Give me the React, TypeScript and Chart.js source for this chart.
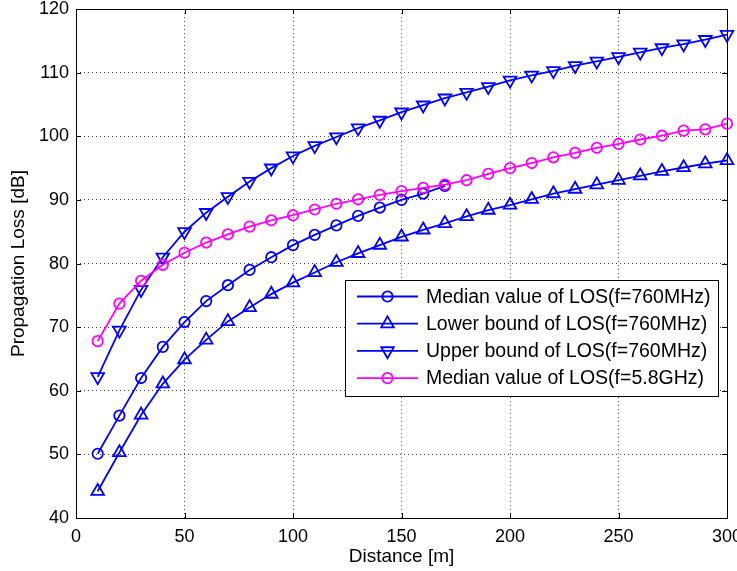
import React, { useEffect, useRef } from 'react';
import { Chart, registerables } from 'chart.js';
import { drawPoint } from 'chart.js/helpers';

Chart.register(...registerables);

// ---- data ----
const distances = [10, 20, 30, 40, 50, 60, 70, 80, 90, 100, 110, 120, 130, 140, 150, 160, 170, 180, 190, 200, 210, 220, 230, 240, 250, 260, 270, 280, 290, 300];
const median760 = [50.1, 56.1, 62.0, 66.9, 70.8, 74.1, 76.6, 79.0, 81.0, 82.9, 84.5, 86.0, 87.5, 88.8, 90.0, 91.0, 92.2];
const lower760 = [44.2, 50.3, 56.2, 61.1, 64.9, 68.0, 70.9, 73.1, 75.2, 77.0, 78.6, 80.2, 81.6, 82.9, 84.2, 85.3, 86.3, 87.4, 88.4, 89.2, 90.1, 91.0, 91.7, 92.4, 93.1, 93.8, 94.5, 95.1, 95.7, 96.2];
const upper760 = [62.2, 69.5, 75.9, 81.0, 85.0, 88.0, 90.5, 92.9, 95.0, 96.9, 98.5, 99.9, 101.3, 102.5, 103.8, 104.9, 106.0, 106.9, 107.8, 108.8, 109.6, 110.3, 111.1, 111.8, 112.5, 113.2, 113.9, 114.5, 115.2, 116.0];
const median58 = [67.8, 73.7, 77.3, 79.8, 81.7, 83.3, 84.6, 85.8, 86.8, 87.6, 88.5, 89.4, 90.1, 90.8, 91.4, 91.9, 92.4, 93.1, 94.1, 95.0, 95.8, 96.7, 97.4, 98.2, 98.8, 99.5, 100.1, 100.9, 101.1, 102.0];
const seriesLabels = [
  'Median value of LOS(f=760MHz)',
  'Lower bound of LOS(f=760MHz)',
  'Upper bound of LOS(f=760MHz)',
  'Median value of LOS(f=5.8GHz)',
];
const xTicks = [0, 50, 100, 150, 200, 250, 300];
const yTicks = [40, 50, 60, 70, 80, 90, 100, 110, 120];
const xTitle = 'Distance [m]';
const yTitle = 'Propagation Loss [dB]';

const FONT = "'Liberation Sans', Arial, Helvetica, sans-serif";
const BLUE = '#0000ff';
const MAGENTA = '#ff00ff';

const toPoints = (ys: number[]) => ys.map((y, i) => ({ x: distances[i], y }));

const framePlugin = {
  id: 'frame',
  afterDatasetsDraw(chart: any) {
    const { ctx, chartArea: a, scales } = chart;
    ctx.save();
    ctx.strokeStyle = '#000';
    ctx.lineWidth = 1;
    ctx.beginPath();
    const tl = 5;
    xTicks.forEach((v) => {
      const px = Math.round(scales.x.getPixelForValue(v)) + 0.5;
      ctx.moveTo(px, a.bottom);
      ctx.lineTo(px, a.bottom - tl);
      ctx.moveTo(px, a.top);
      ctx.lineTo(px, a.top + tl);
    });
    yTicks.forEach((v) => {
      const py = Math.round(scales.y.getPixelForValue(v)) + 0.5;
      ctx.moveTo(a.left, py);
      ctx.lineTo(a.left + tl, py);
      ctx.moveTo(a.right, py);
      ctx.lineTo(a.right - tl, py);
    });
    ctx.stroke();
    ctx.strokeRect(Math.round(a.left) + 0.5, Math.round(a.top) + 0.5, Math.round(a.right - a.left), Math.round(a.bottom - a.top));
    ctx.restore();
  },
};

const legendPlugin = {
  id: 'boxLegend',
  afterDraw(chart: any) {
    const { ctx } = chart;
    const box = { x: 345.5, y: 280.5, w: 373, h: 116 };
    ctx.save();
    ctx.fillStyle = '#fff';
    ctx.fillRect(box.x, box.y, box.w, box.h);
    ctx.strokeStyle = '#000';
    ctx.lineWidth = 1;
    ctx.strokeRect(box.x, box.y, box.w, box.h);
    const legendOrder = [1, 2, 3, 0];
    legendOrder.forEach((di, row) => {
      const ds = chart.data.datasets[di];
      const cy = 296.5 + row * 27.2;
      ctx.strokeStyle = ds.borderColor;
      ctx.lineWidth = ds.borderWidth;
      ctx.beginPath();
      ctx.moveTo(357, cy);
      ctx.lineTo(418, cy);
      ctx.stroke();
      ctx.fillStyle = 'rgba(0,0,0,0)';
      drawPoint(ctx, {
        pointStyle: ds.pointStyle,
        rotation: ds.pointRotation || 0,
        radius: ds.pointRadius,
        borderWidth: ds.pointBorderWidth,
      }, 387.5, cy);
      ctx.fillStyle = '#000';
      ctx.font = `19.5px ${FONT}`;
      ctx.textBaseline = 'middle';
      ctx.textAlign = 'left';
      ctx.fillText(ds.label, 426, cy + 1);
    });
    ctx.restore();
  },
};

export default function App() {
  const ref = useRef<HTMLCanvasElement>(null);
  useEffect(() => {
    document.body.style.margin = '0';
    const canvas = ref.current!;
    const common = {
      fill: false,
      borderWidth: 1.8,
      pointBorderWidth: 1.8,
      pointBackgroundColor: 'rgba(0,0,0,0)',
      tension: 0,
      clip: false as any,
    };
    const chart = new Chart(canvas, {
      type: 'line',
      data: {
        datasets: [
          {
            ...common,
            label: seriesLabels[3],
            data: toPoints(median58),
            borderColor: MAGENTA,
            pointBorderColor: MAGENTA,
            pointStyle: 'circle',
            pointRadius: 5.2,
            order: 0,
          },
          {
            ...common,
            label: seriesLabels[0],
            data: toPoints(median760),
            borderColor: BLUE,
            pointBorderColor: BLUE,
            pointStyle: 'circle',
            pointRadius: 5.2,
            order: 1,
          },
          {
            ...common,
            label: seriesLabels[1],
            data: toPoints(lower760),
            borderColor: BLUE,
            pointBorderColor: BLUE,
            pointStyle: 'triangle',
            pointRadius: 7.3,
            order: 2,
          },
          {
            ...common,
            label: seriesLabels[2],
            data: toPoints(upper760),
            borderColor: BLUE,
            pointBorderColor: BLUE,
            pointStyle: 'triangle',
            pointRotation: 180,
            pointRadius: 7.3,
            order: 3,
          },
        ] as any,
      },
      options: {
        responsive: false,
        animation: false,
        devicePixelRatio: 1,
        layout: { padding: { left: 0, right: 10, top: 9, bottom: 0 } },
        plugins: { legend: { display: false }, tooltip: { enabled: false } },
        elements: { point: { hoverRadius: 5 } },
        scales: {
          x: {
            type: 'linear',
            min: 0,
            max: 300,
            afterBuildTicks: (s: any) => { s.ticks = xTicks.map((v) => ({ value: v })); },
            afterFit: (s: any) => {
              s.height = 53;
              s.paddingLeft = 0; s.paddingRight = 0; s.paddingTop = 0; s.paddingBottom = 0;
            },
            ticks: {
              color: '#000',
              font: { family: FONT, size: 18 },
              padding: 8,
              maxRotation: 0,
              autoSkip: false,
            },
            grid: { color: '#444', lineWidth: 1, drawTicks: false, tickLength: 0 },
            border: { display: false, dash: [1, 3] },
            title: {
              display: true,
              text: xTitle,
              color: '#000',
              font: { family: FONT, size: 19 },
              padding: { top: 0, bottom: 3 },
            },
          },
          y: {
            type: 'linear',
            min: 40,
            max: 120,
            afterBuildTicks: (s: any) => { s.ticks = yTicks.map((v) => ({ value: v })); },
            afterFit: (s: any) => {
              s.width = 76;
              s.paddingLeft = 0; s.paddingRight = 0; s.paddingTop = 0; s.paddingBottom = 0;
            },
            ticks: {
              color: '#000',
              font: { family: FONT, size: 18 },
              padding: 7,
              autoSkip: false,
            },
            grid: { color: '#444', lineWidth: 1, drawTicks: false, tickLength: 0 },
            border: { display: false, dash: [1, 3] },
            title: {
              display: true,
              text: yTitle,
              color: '#000',
              font: { family: FONT, size: 19 },
              padding: { top: 7, bottom: 0 },
            },
          },
        },
      } as any,
      plugins: [framePlugin, legendPlugin],
    });
    return () => chart.destroy();
  }, []);
  return <canvas ref={ref} width={737} height={571} style={{ display: 'block', width: 737, height: 571 }} />;
}
